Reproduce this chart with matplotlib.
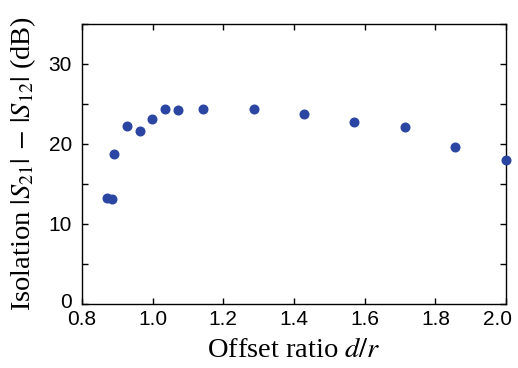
import numpy as np
import matplotlib
matplotlib.use('Agg')
import matplotlib.pyplot as plt
import matplotlib.transforms as mtransforms
from matplotlib.ticker import MultipleLocator

# Measured isolation vs. offset ratio
offset_ratio = [0.872, 0.886, 0.891, 0.927, 0.964, 0.998, 1.035, 1.072,
                1.142, 1.287, 1.428, 1.571, 1.714, 1.856, 1.999]
isolation_db = [13.2, 13.1, 18.75, 22.25, 21.6, 23.1, 24.4, 24.25,
                24.4, 24.4, 23.7, 22.7, 22.1, 19.6, 18.0]

plt.rcParams['mathtext.fontset'] = 'stix'

fig = plt.figure(figsize=(5.18, 3.68), dpi=100)
ax = fig.add_axes([0.158, 0.174, 0.819, 0.761])

ax.plot(offset_ratio, isolation_db, 'o', color='#2b45a3', markersize=6.2,
        clip_on=False, zorder=3)

ax.set_xlim(0.8, 2.0)
ax.set_ylim(0, 35)
ax.set_xticks(np.arange(0.8, 2.01, 0.2))
ax.set_yticks([0, 10, 20, 30])
ax.yaxis.set_minor_locator(MultipleLocator(5))
ax.tick_params(which='both', direction='in', top=True, right=True,
               labelsize=15, length=4, width=1)
ax.tick_params(axis='x', pad=4.5)
ax.tick_params(axis='y', pad=7)
for lab in ax.get_xticklabels() + ax.get_yticklabels():
    lab.set_family('Liberation Sans')

# nudge corner labels: last x label left, y "0" label up
def nudge(lab, dx, dy):
    lab.set_transform(lab.get_transform() +
                      mtransforms.ScaledTranslation(dx / 72, dy / 72, fig.dpi_scale_trans))

nudge(ax.get_xticklabels()[-1], -6, 0)
nudge(ax.get_yticklabels()[0], 0, 2.5)

for s in ax.spines.values():
    s.set_linewidth(1)

ax.set_xlabel('Offset ratio $d/r$', family='Liberation Serif', fontsize=20.5,
              labelpad=6)
ax.set_ylabel(r'Isolation $|S_{21}|\,-\,|S_{12}|$ (dB)', family='Liberation Serif',
              fontsize=20.5, labelpad=8)

fig.savefig('out.png', dpi=100)
